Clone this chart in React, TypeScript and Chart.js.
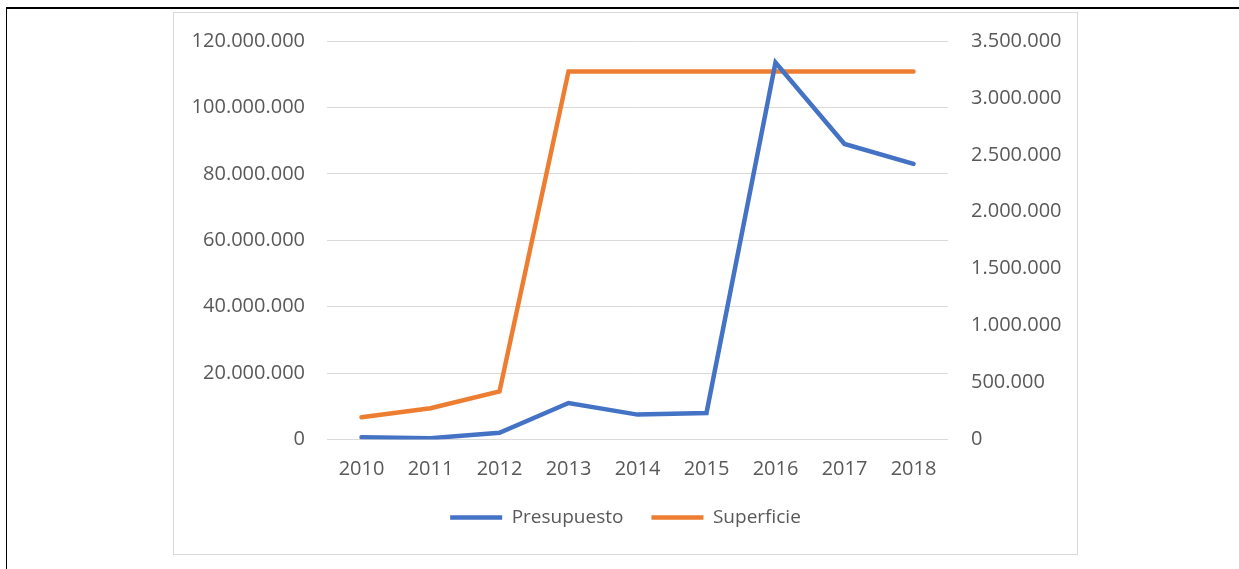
import React, { useEffect, useRef } from "react";
import { Chart, registerables } from "chart.js";

Chart.register(...registerables);

const years = ["2010", "2011", "2012", "2013", "2014", "2015", "2016", "2017", "2018"];
const presupuesto = [700000, 400000, 2000000, 11000000, 7500000, 8000000, 113500000, 89000000, 83000000];
const superficie = [195000, 275000, 422000, 3233000, 3233000, 3233000, 3233000, 3233000, 3233000];
const leftMax = 120000000;
const leftStep = 20000000;
const rightMax = 3500000;
const rightStep = 500000;

const BLUE = "#4472C4";
const ORANGE = "#ED7D31";
const TEXT = "#595959";
const GRID = "#D9D9D9";
const FONT = "'Open Sans', sans-serif";

const fmt = (v: number) => {
  const s = Math.round(v).toString();
  return s.replace(/\B(?=(\d{3})+(?!\d))/g, ".");
};

const CW = 903;
const CH = 541;

export default function App() {
  const ref = useRef<HTMLCanvasElement | null>(null);
  useEffect(() => {
    if (!ref.current) return;
    const chart = new Chart(ref.current, {
      type: "line",
      data: {
        labels: years,
        datasets: [
          {
            label: "Presupuesto",
            data: presupuesto,
            borderColor: BLUE,
            backgroundColor: BLUE,
            borderWidth: 4.5,
            pointRadius: 0,
            borderCapStyle: "round",
            tension: 0,
            yAxisID: "y",
          },
          {
            label: "Superficie",
            data: superficie,
            borderColor: ORANGE,
            backgroundColor: ORANGE,
            borderWidth: 4.5,
            pointRadius: 0,
            borderCapStyle: "round",
            tension: 0,
            yAxisID: "y1",
          },
        ],
      },
      options: {
        responsive: false,
        animation: false,
        devicePixelRatio: 1,
        layout: { padding: { top: 28, bottom: 17, left: 0, right: 0 } },
        plugins: {
          tooltip: { enabled: false },
          legend: {
            position: "bottom",
            labels: {
              usePointStyle: true,
              pointStyle: "line",
              pointStyleWidth: 52,
              padding: 28,
              color: TEXT,
              font: { family: FONT, size: 19 },
            },
          },
        },
        scales: {
          x: {
            offset: true,
            grid: { display: false },
            border: { display: false },
            ticks: { color: TEXT, font: { family: FONT, size: 20 }, padding: 10, maxRotation: 0 },
            afterFit: (s: any) => {
              s.height = 40.5;
            },
          },
          y: {
            position: "left",
            min: 0,
            max: leftMax,
            grid: { color: GRID, lineWidth: 1, drawTicks: false },
            border: { display: false },
            ticks: {
              stepSize: leftStep,
              color: TEXT,
              font: { family: FONT, size: 20 },
              padding: 22,
              callback: (v: any) => fmt(Number(v)),
            },
            afterFit: (s: any) => {
              s.width = 153;
              s.paddingTop = 0;
              s.paddingBottom = 0;
            },
          },
          y1: {
            position: "right",
            min: 0,
            max: rightMax,
            grid: { drawOnChartArea: false, drawTicks: false },
            border: { display: false },
            ticks: {
              stepSize: rightStep,
              color: TEXT,
              font: { family: FONT, size: 20 },
              padding: 23,
              callback: (v: any) => fmt(Number(v)),
            },
            afterFit: (s: any) => {
              s.width = CW - 774;
              s.paddingTop = 0;
              s.paddingBottom = 0;
            },
          },
        },
      },
    } as any);
    return () => chart.destroy();
  }, []);

  return (
    <div style={{ position: "absolute", left: 0, top: 0, width: 1239, height: 569, background: "#fff", overflow: "hidden" }}>
      <div style={{ position: "absolute", left: 6, top: 7, width: 1233, height: 2, background: "#000" }} />
      <div style={{ position: "absolute", left: 6, top: 7, width: 1, height: 562, background: "#000" }} />
      <div
        style={{
          position: "absolute",
          left: 173,
          top: 12,
          width: CW,
          height: CH,
          border: "1px solid #D9D9D9",
        }}
      >
        <canvas ref={ref} width={CW} height={CH} style={{ display: "block", width: CW, height: CH }} />
      </div>
    </div>
  );
}
